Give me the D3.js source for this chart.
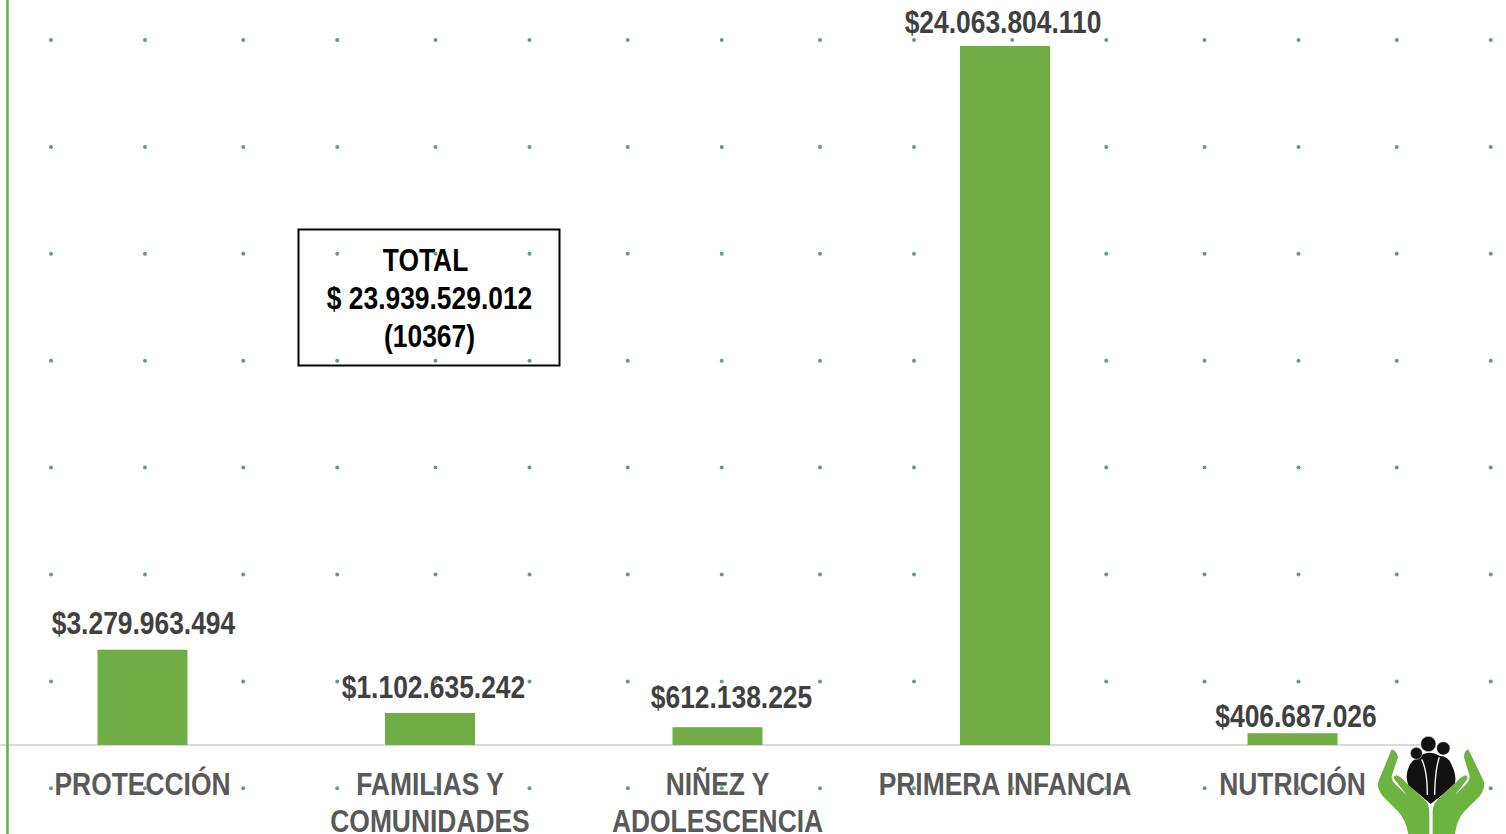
<!DOCTYPE html>
<html><head><meta charset="utf-8">
<style>html,body{margin:0;padding:0;background:#fff;overflow:hidden}svg{display:block}
text{font-family:"Liberation Sans",sans-serif;font-weight:700}</style>
<script src="https://cdnjs.cloudflare.com/ajax/libs/d3/7.8.5/d3.min.js"></script></head><body>
<script>
const categories = [["PROTECCIÓN"],["FAMILIAS Y","COMUNIDADES"],["NIÑEZ Y","ADOLESCENCIA"],["PRIMERA INFANCIA"],["NUTRICIÓN"]];
const values = [3279963494,1102635242,612138225,24063804110,406687026];
const valueLabels = ["$3.279.963.494","$1.102.635.242","$612.138.225","$24.063.804.110","$406.687.026"];
const totalLines = ["TOTAL","$ 23.939.529.012","(10367)"];

const W=1506,H=834,narrow=0.825;
const svg=d3.select("body").append("svg").attr("width",W).attr("height",H);
const x=d3.scaleBand().domain(d3.range(values.length)).range([-1.25,1436.25]).paddingInner(.687).paddingOuter(.3435);
const y=d3.scaleLinear().domain([0,d3.max(values)]).range([745,46]);
const green="#70ad47";
const labelDx=[1,3.5,14,-2,3.5], labelDy=[-16,-15,-19,-13,-6];

// value labels
svg.append("g").selectAll("text").data(values).join("text")
  .attr("transform",(d,i)=>`translate(${x(i)+x.bandwidth()/2+labelDx[i]},${y(d)+labelDy[i]}) scale(${narrow},1)`)
  .attr("text-anchor","middle").attr("font-size",32).attr("fill","#404040")
  .text((d,i)=>valueLabels[i]);

// category labels
const cat=svg.append("g").selectAll("g").data(categories).join("g")
  .attr("transform",(d,i)=>`translate(${x(i)+x.bandwidth()/2},795) scale(${narrow},1)`);
cat.selectAll("text").data(d=>d).join("text")
  .attr("y",(d,i)=>i*37).attr("text-anchor","middle").attr("font-size",32).attr("fill","#595959")
  .text(d=>d);

// total box
const box=svg.append("g");
box.append("rect").attr("x",298.5).attr("y",229.5).attr("width",261).attr("height",136)
  .attr("fill","#fff").attr("stroke","#000").attr("stroke-width",2);
box.selectAll("text").data(totalLines).join("text")
  .attr("transform",(d,i)=>`translate(${i?429.5:425.5},${271+i*38}) scale(${narrow},1)`)
  .attr("text-anchor","middle").attr("font-size",32).attr("fill","#000").text(d=>d);

// dotted backdrop grid
const colsA=d3.range(8).map(k=>51+192.25*k), colsB=d3.range(8).map(k=>145+192.25*k);
const cols=colsA.concat(colsB), rows=d3.range(8).map(i=>40+106.9*i);
svg.append("g").selectAll("circle").data(d3.cross(cols,rows)).join("circle")
  .attr("cx",d=>d[0]).attr("cy",d=>d[1]).attr("r",2).attr("fill","#5f9f7a");

// axes lines
svg.append("line").attr("x1",0).attr("x2",1420).attr("y1",745).attr("y2",745).attr("stroke","#d9d9d9").attr("stroke-width",2);
svg.append("line").attr("x1",7.5).attr("x2",7.5).attr("y1",0).attr("y2",H).attr("stroke",green).attr("stroke-width",2.5);

// bars
svg.append("g").selectAll("rect").data(values).join("rect")
  .attr("x",(d,i)=>x(i)).attr("width",x.bandwidth())
  .attr("y",d=>y(d)).attr("height",d=>745-y(d)).attr("fill",green);

// logo
const logo=svg.append("g").attr("transform","translate(1340,720) scale(0.3333)");
const lg="#6cb33f";
logo.append("path").attr("fill",lg).attr("d","M155,88 Q170,92 174,112 L156,165 Q152,180 168,195 L200,225 L165,180 Q155,170 170,166 Q180,168 195,185 L255,240 Q268,255 268,275 L268,342 L205,342 Q198,300 175,275 L128,228 Q110,205 115,185 Z");
logo.append("path").attr("fill",lg).attr("d","M385,88 Q372,92 372,112 L388,165 Q392,180 376,195 L345,225 L380,180 Q388,170 376,166 Q366,168 350,185 L292,240 Q278,255 278,275 L278,342 L345,342 Q350,300 372,275 L420,228 Q436,205 432,185 Z");
logo.append("path").attr("fill","#111").attr("d","M272,252 Q240,225 205,195 Q195,170 205,145 Q215,118 232,116 Q245,100 265,98 Q285,98 300,108 Q325,108 335,135 Q350,165 345,190 Q310,225 272,252 Z");
logo.append("path").attr("fill","none").attr("stroke","#fff").attr("stroke-width",4).attr("d","M245,118 Q262,150 262,225 M298,112 Q285,150 284,225");
logo.selectAll("circle").data([[229,100,18],[265,72,23],[310,85,20]]).join("circle")
  .attr("cx",d=>d[0]).attr("cy",d=>d[1]).attr("r",d=>d[2]).attr("fill","#111").attr("stroke","#fff").attr("stroke-width",1.5);
</script></body></html>
